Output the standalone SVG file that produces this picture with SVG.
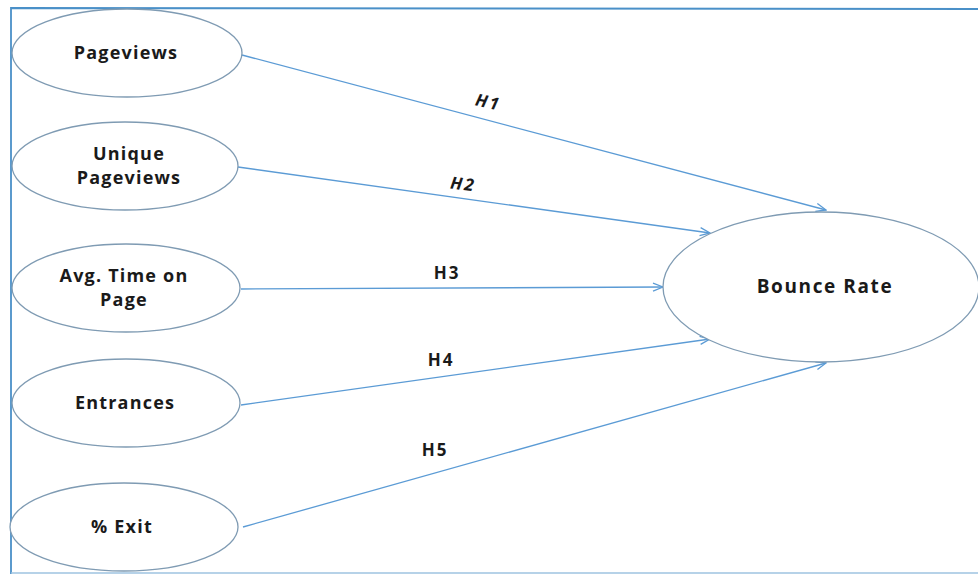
<svg xmlns="http://www.w3.org/2000/svg" width="978" height="577" viewBox="0 0 978 577">
<style>
.node ellipse{fill:#fff;stroke:#7f9bb3;stroke-width:1.3}
.lbl{font-family:"Open Sans","Liberation Sans",sans-serif;font-weight:bold;font-size:18px;letter-spacing:1.2px;fill:#1a1a1a;text-anchor:middle}
.big{font-size:19px;letter-spacing:1.6px}
.edge{stroke:#5b9bd5;stroke-width:1.3;fill:none;marker-end:url(#arr)}
.h{font-family:"Open Sans","Liberation Sans",sans-serif;font-weight:bold;font-size:17px;letter-spacing:2px;fill:#1a1a1a;text-anchor:middle}
</style>
<defs>
<marker id="arr" markerWidth="12" markerHeight="10" refX="11" refY="5" orient="auto" markerUnits="userSpaceOnUse">
<path d="M1,1 L11,5 L1,9" fill="none" stroke="#5b9bd5" stroke-width="1.3"/>
</marker>
</defs>
<rect x="0" y="0" width="978" height="577" fill="#fff"/>
<path d="M11,574 L11,8 L990,9" fill="none" stroke="#4a90c8" stroke-width="1.8"/>
<path d="M11,573 L978,573" fill="none" stroke="#9ec3e0" stroke-width="1.5"/>
<g id="connectors">
<line class="edge" x1="242" y1="55" x2="826" y2="210"/>
<line class="edge" x1="238" y1="167" x2="710" y2="233"/>
<line class="edge" x1="241" y1="289" x2="663" y2="287"/>
<line class="edge" x1="241" y1="405" x2="710" y2="339"/>
<line class="edge" x1="243" y1="527" x2="826" y2="363"/>
<text class="h" x="488" y="108" font-style="italic" transform="rotate(12 488 103)">H1</text>
<text class="h" x="463" y="190" font-style="italic" transform="rotate(7 463 185)">H2</text>
<text class="h" x="447" y="279">H3</text>
<text class="h" x="441" y="366">H4</text>
<text class="h" x="435" y="456">H5</text>
</g>
<g id="pageviews" class="node">
<ellipse cx="127" cy="53" rx="115" ry="44"/>
<text class="lbl" x="126" y="59">Pageviews</text>
</g>
<g id="unique-pageviews" class="node">
<ellipse cx="125" cy="166" rx="113" ry="44"/>
<text class="lbl" x="129" y="160">Unique</text>
<text class="lbl" x="129" y="184">Pageviews</text>
</g>
<g id="avg-time" class="node">
<ellipse cx="126" cy="288" rx="114" ry="44"/>
<text class="lbl" x="124" y="282">Avg. Time on</text>
<text class="lbl" x="124" y="306">Page</text>
</g>
<g id="entrances" class="node">
<ellipse cx="126" cy="403" rx="114" ry="44"/>
<text class="lbl" x="125" y="409">Entrances</text>
</g>
<g id="exit" class="node">
<ellipse cx="124" cy="527" rx="114" ry="44"/>
<text class="lbl" x="122" y="533">% Exit</text>
</g>
<g id="bounce-rate" class="node">
<ellipse cx="821" cy="287" rx="158" ry="75"/>
<text class="lbl big" x="825" y="293">Bounce Rate</text>
</g>
</svg>
